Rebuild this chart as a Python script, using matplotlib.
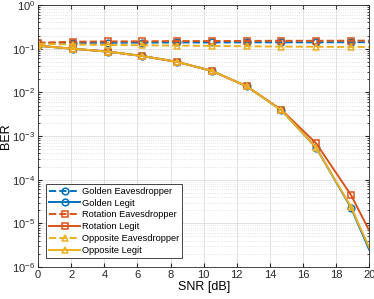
import numpy as np
import matplotlib
matplotlib.use('Agg')
import matplotlib.pyplot as plt

plt.rcParams['font.family'] = ['Liberation Sans', 'DejaVu Sans']
plt.rcParams['mathtext.default'] = 'regular'

# SNR points (markers every 2.1 dB, plus end point)
snr = [0, 2.1, 4.2, 6.3, 8.4, 10.5, 12.6, 14.7, 16.8, 18.9, 20]

golden_eve = [0.135, 0.136, 0.137, 0.138, 0.139, 0.139, 0.140, 0.140, 0.140, 0.141, 0.141]
golden_legit = [0.117, 0.100, 0.086, 0.068, 0.050, 0.031, 0.0138, 0.0039, 5.4e-4, 2.3e-5, 2.5e-6]
rotation_eve = [0.137, 0.145, 0.147, 0.148, 0.150, 0.150, 0.151, 0.152, 0.152, 0.153, 0.153]
rotation_legit = [0.117, 0.100, 0.086, 0.068, 0.050, 0.031, 0.0138, 0.0040, 6.8e-4, 4.5e-5, 6.9e-6]
opposite_eve = [0.130, 0.125, 0.122, 0.120, 0.118, 0.116, 0.114, 0.112, 0.111, 0.110, 0.110]
opposite_legit = [0.117, 0.100, 0.086, 0.068, 0.050, 0.031, 0.0138, 0.0039, 5.4e-4, 2.4e-5, 2.8e-6]

labels = ['Golden Eavesdropper', 'Golden Legit', 'Rotation Eavesdropper',
          'Rotation Legit', 'Opposite Eavesdropper', 'Opposite Legit']

blue = '#0072BD'
red = '#D95319'
yellow = '#EDB120'

fig = plt.figure(figsize=(3.74, 2.99), dpi=100)
ax = fig.add_axes([0.102, 0.107, 0.885, 0.876])

series = [
    (golden_eve, blue, 'o', '--'),
    (golden_legit, blue, 'o', '-'),
    (rotation_eve, red, 's', '--'),
    (rotation_legit, red, 's', '-'),
    (opposite_eve, yellow, '^', '--'),
    (opposite_legit, yellow, '^', '-'),
]
n = len(snr)
for (vals, c, m, ls), lab in zip(series, labels):
    ax.semilogy(snr, vals, color=c, marker=m, linestyle=ls, linewidth=1.4,
                markersize=4.8, markerfacecolor='none', markeredgewidth=1.1,
                markevery=list(range(n - 1)), label=lab)

ax.set_xlim(0, 20)
ax.set_ylim(1e-6, 1)
ax.set_xticks(range(0, 21, 2))
ax.set_xlabel('SNR [dB]', fontsize=9, labelpad=1)
ax.set_ylabel('BER', fontsize=9, labelpad=0)
ax.tick_params(axis='both', which='both', direction='in', top=True, right=True,
               labelsize=8, colors='#262626')
ax.tick_params(which='major', length=3, pad=2)
ax.tick_params(which='minor', length=1.5)
ax.grid(True, which='major', color='#dcdcdc', linewidth=0.6)
ax.grid(True, which='minor', color='#dcdcdc', linestyle=':', linewidth=0.6)
for s in ax.spines.values():
    s.set_color('#262626')
    s.set_linewidth(0.6)

leg = ax.legend(loc='lower left', bbox_to_anchor=(0.024, 0.034), fontsize=6.7,
                handlelength=3.3, handletextpad=0.2, borderpad=0.35,
                labelspacing=0.3, borderaxespad=0, fancybox=False, framealpha=1)
leg.get_frame().set_edgecolor('#262626')
leg.get_frame().set_linewidth(0.6)

fig.savefig('out.png', dpi=100)
